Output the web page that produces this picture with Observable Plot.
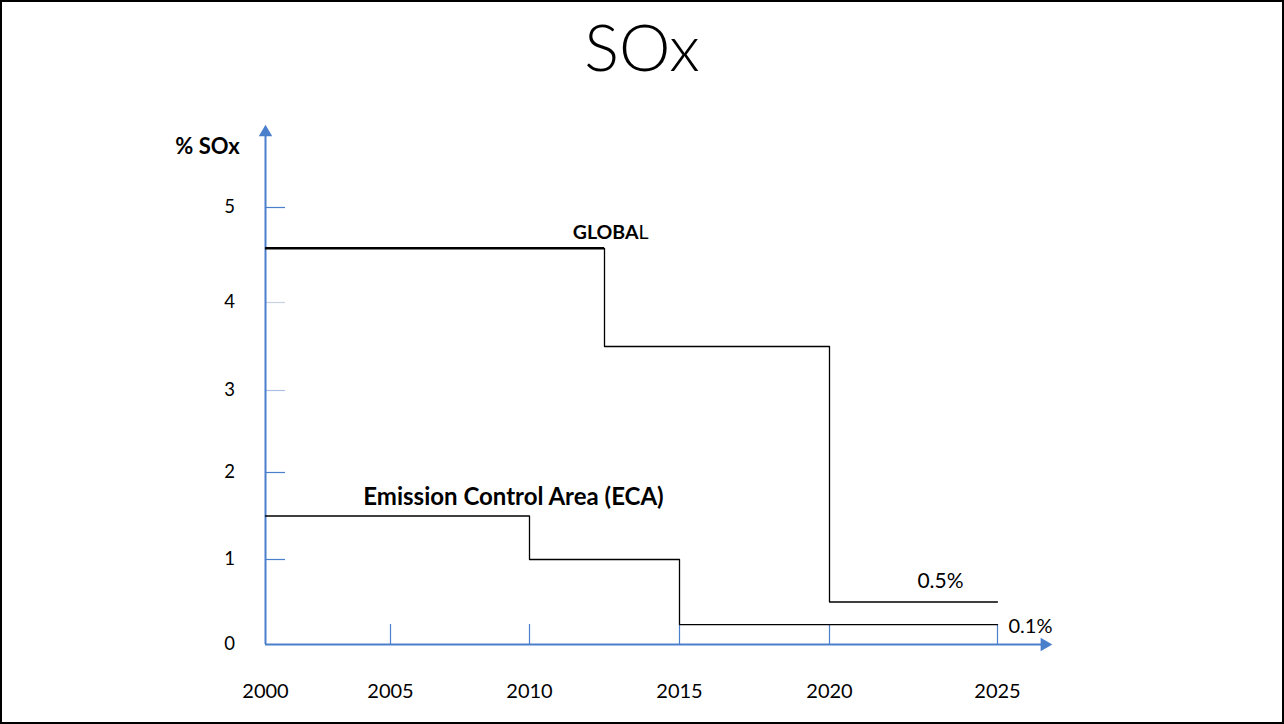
<!DOCTYPE html>
<html>
<head>
<meta charset="utf-8">
<script src="https://cdn.jsdelivr.net/npm/d3@7"></script>
<script src="https://cdn.jsdelivr.net/npm/@observablehq/plot@0.6"></script>
<style>
  html, body { margin: 0; padding: 0; background: #fff; }
  #wrap { position: relative; width: 1284px; height: 724px; overflow: hidden; background: #fff; }
  #wrap svg { position: absolute; left: 0; top: 0; }
  #border { position: absolute; inset: 0; border: 2px solid #000; box-sizing: border-box; pointer-events: none; }
  #title { position: absolute; left: 0; width: 1284px; top: 14px; text-align: center;
           font-family: Lato, "Open Sans", sans-serif; font-weight: 300; font-size: 65px; line-height: 1; color: #000; }
</style>
</head>
<body>
<div id="wrap">
  <div id="title">SOx</div>
  <div id="border"></div>
</div>
<script>
// ---- data ----
const years = [2000, 2005, 2010, 2015, 2020, 2025];
const yTicks = [0, 1, 2, 3, 4, 5];
const globalYears = [2000, 2012.5, 2020, 2025];
const globalLimits = [4.57, 3.5, 0.5, 0.5];
const ecaYears = [2000, 2010, 2015, 2025];
const ecaLimits = [1.5, 1.0, 0.235, 0.235];
const yAxisTop = 5.79;     // end of the y-axis arrow (in % units)
const xAxisEnd = 2026.4;   // end of the x-axis arrow (in years)
const tickLenX = 0.8;      // y-tick length in years
const tickLenY = 0.235;    // x-tick length in %
const labels = {
  yTitle: "% SOx",
  globalBold: "GLOBA",
  globalRest: "L",
  eca: "Emission Control Area (ECA)",
  globalEnd: "0.5%",
  ecaEnd: "0.1%"
};

const blue = "#4a7fcc";
const paleTick = {3: "#a9bfe6", 4: "#c9d1e0"};
const font = "Lato, 'Open Sans', sans-serif";

const globalData = globalYears.map((x, i) => ({x, y: globalLimits[i]}));
const ecaData = ecaYears.map((x, i) => ({x, y: ecaLimits[i]}));

const chart = Plot.plot({
  width: 1284,
  height: 724,
  style: {background: "transparent", fontFamily: font, color: "#000"},
  x: {type: "linear", domain: years, range: [265, 390, 529, 679, 829, 997], axis: null},
  y: {type: "linear", domain: yTicks, range: [644, 559, 472, 390, 302, 207], axis: null},
  marks: [
    // ticks
    Plot.ruleY(yTicks.filter(d => d > 0), {y: d => d, x1: years[0], x2: years[0] + tickLenX, stroke: d => paleTick[d] || blue, strokeWidth: 1.2}),
    Plot.ruleX(years.filter(d => d > years[0]), {x: d => d, y1: 0, y2: tickLenY, stroke: blue, strokeWidth: 1.2}),
    // axes
    Plot.ruleX([years[0]], {y1: 0, y2: yAxisTop, stroke: blue, strokeWidth: 2}),
    Plot.ruleY([0], {x1: years[0], x2: xAxisEnd, stroke: blue, strokeWidth: 2}),
    Plot.dot([{x: years[0], y: yAxisTop}], {x: "x", y: "y", symbol: "triangle", r: 5, fill: blue, stroke: null}),
    Plot.dot([{x: xAxisEnd, y: 0}], {x: "x", y: "y", symbol: "triangle", r: 5, rotate: 90, fill: blue, stroke: null}),
    // tick labels
    Plot.text(yTicks, {x: () => years[0], y: d => d, text: d => String(d), dx: -36, fontSize: 18.5, fill: "#000"}),
    Plot.text(years, {x: d => d, y: () => 0, text: d => String(d), dy: 47, fontSize: 20, fill: "#000"}),
    Plot.text([labels.yTitle], {x: () => years[0], y: () => yAxisTop, text: d => d, dx: -58, dy: 15, fontSize: 22, fontWeight: "bold", fill: "#000"}),
    // step lines
    Plot.line(globalData, {x: "x", y: "y", curve: "step-after", stroke: "#000", strokeWidth: 1.3}),
    Plot.ruleY([globalData[0]], {y: "y", x1: d => globalYears[0], x2: d => globalYears[1], stroke: "#000", strokeWidth: 2.5}),
    Plot.line(ecaData, {x: "x", y: "y", curve: "step-after", stroke: "#000", strokeWidth: 1.3}),
    // annotations
    Plot.text([globalData[1]], {x: "x", y: () => globalLimits[0], text: () => labels.globalBold, textAnchor: "end", dx: 34, dy: -16, fontSize: 19.5, fontWeight: "bold", fill: "#000"}),
    Plot.text([globalData[1]], {x: "x", y: () => globalLimits[0], text: () => labels.globalRest, textAnchor: "start", dx: 34, dy: -16, fontSize: 19.5, fill: "#000"}),
    Plot.text([ecaData[1]], {x: "x", y: () => ecaLimits[0], text: () => labels.eca, dx: -16, dy: -19, fontSize: 24, fontWeight: "bold", fill: "#000"}),
    Plot.text([globalData[3]], {x: "x", y: "y", text: () => labels.globalEnd, dx: -57, dy: -21, fontSize: 21, fill: "#000"}),
    Plot.text([ecaData[3]], {x: "x", y: "y", text: () => labels.ecaEnd, textAnchor: "start", dx: 11, dy: 2, fontSize: 20, fill: "#000"})
  ]
});
const wrap = document.getElementById("wrap");
wrap.insertBefore(chart, wrap.firstChild);
</script>
</body>
</html>
